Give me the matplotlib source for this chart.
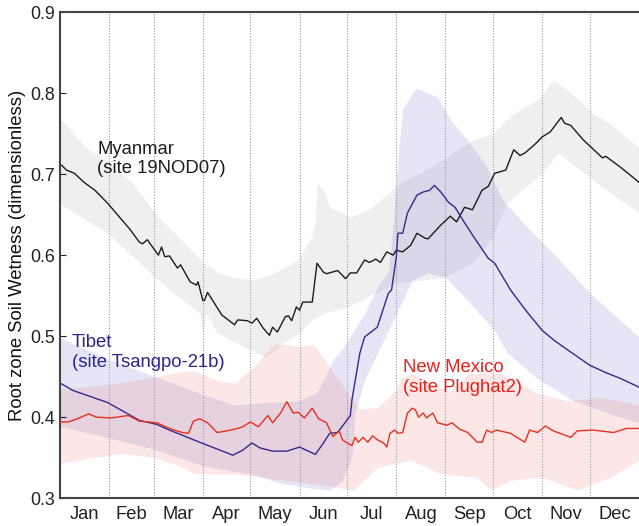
import matplotlib
matplotlib.use("Agg")
import matplotlib.pyplot as plt
import numpy as np

plt.rcParams['font.family'] = ['Liberation Sans', 'DejaVu Sans']

months = ['Jan', 'Feb', 'Mar', 'Apr', 'May', 'Jun', 'Jul', 'Aug', 'Sep', 'Oct', 'Nov', 'Dec']
month_starts = [0, 31, 59, 90, 120, 151, 181, 212, 243, 273, 304, 334, 365]

# Myanmar (site 19NOD07)
mya_days = [1, 4, 9, 15, 22, 30, 44, 50, 52, 55, 62, 64, 66, 69, 74, 76, 82, 86, 87, 90, 91, 93,
            102, 106, 110, 112, 118, 121, 124, 128, 132, 134, 137, 142, 144, 146, 149, 151, 153,
            159, 162, 166, 168, 175, 180, 183, 187, 192, 195, 199, 202, 206, 210, 212, 216, 221,
            225, 230, 232, 240, 246, 250, 255, 260, 266, 270, 274, 281, 286, 290, 293, 299, 304,
            309, 316, 318, 322, 330, 342, 344, 353, 365]
mya_vals = [0.711, 0.705, 0.701, 0.690, 0.680, 0.664, 0.632, 0.616, 0.614, 0.619, 0.600, 0.610,
            0.598, 0.599, 0.584, 0.588, 0.567, 0.563, 0.567, 0.544, 0.544, 0.554, 0.526, 0.520,
            0.514, 0.520, 0.519, 0.516, 0.522, 0.510, 0.501, 0.511, 0.505, 0.524, 0.525, 0.519,
            0.536, 0.532, 0.542, 0.542, 0.590, 0.579, 0.577, 0.581, 0.571, 0.578, 0.578, 0.594,
            0.591, 0.595, 0.591, 0.604, 0.600, 0.606, 0.604, 0.612, 0.627, 0.621, 0.620, 0.637,
            0.648, 0.641, 0.659, 0.656, 0.680, 0.685, 0.701, 0.705, 0.730, 0.723, 0.726, 0.736,
            0.746, 0.752, 0.770, 0.763, 0.760, 0.742, 0.720, 0.722, 0.709, 0.690]
mya_up_days = [1, 15, 30, 45, 55, 62, 75, 90, 100, 110, 122, 135, 142, 150, 158, 161, 162, 166, 170,
               183, 194, 202, 215, 235, 260, 273, 286, 301, 311, 320, 336, 346, 365]
mya_up_vals = [0.767, 0.735, 0.715, 0.690, 0.665, 0.647, 0.622, 0.591, 0.578, 0.572, 0.569, 0.578,
               0.585, 0.594, 0.620, 0.640, 0.689, 0.680, 0.659, 0.647, 0.656, 0.668, 0.690, 0.710,
               0.742, 0.750, 0.775, 0.791, 0.816, 0.804, 0.775, 0.763, 0.733]
mya_lo_days = [1, 15, 30, 45, 62, 75, 88, 90, 92, 99, 120, 130, 140, 151, 159, 166, 181, 211, 243,
               260, 272, 282, 304, 314, 342, 365]
mya_lo_vals = [0.662, 0.645, 0.627, 0.600, 0.569, 0.548, 0.528, 0.505, 0.528, 0.504, 0.483, 0.474,
               0.491, 0.504, 0.520, 0.528, 0.536, 0.565, 0.573, 0.590, 0.620, 0.665, 0.701, 0.726,
               0.684, 0.652]

# Tibet (site Tsangpo-21b)
tib_days = [1, 8, 30, 50, 61, 69, 88, 109, 115, 121, 126, 134, 143, 151, 161, 166, 170, 175, 180,
            183, 184, 189, 192, 200, 207, 209, 212, 213, 216, 219, 225, 229, 233, 236, 240, 245,
            249, 255, 262, 270, 274, 284, 292, 296, 304, 312, 320, 334, 344, 353, 365]
tib_vals = [0.441, 0.433, 0.418, 0.396, 0.391, 0.384, 0.369, 0.353, 0.359, 0.368, 0.362, 0.358,
            0.358, 0.363, 0.354, 0.368, 0.380, 0.381, 0.394, 0.402, 0.421, 0.479, 0.499, 0.511,
            0.553, 0.557, 0.598, 0.627, 0.627, 0.652, 0.674, 0.678, 0.680, 0.686, 0.678, 0.665,
            0.659, 0.640, 0.619, 0.596, 0.590, 0.557, 0.536, 0.526, 0.507, 0.494, 0.483, 0.464,
            0.455, 0.448, 0.437]
tib_up_days = [1, 30, 60, 90, 110, 130, 150, 162, 172, 180, 192, 200, 207, 210, 213, 216, 222, 225,
               238, 246, 257, 269, 279, 292, 313, 334, 365]
tib_up_vals = [0.497, 0.472, 0.450, 0.428, 0.415, 0.418, 0.420, 0.430, 0.470, 0.490, 0.528, 0.560,
               0.580, 0.640, 0.720, 0.780, 0.800, 0.806, 0.795, 0.767, 0.742, 0.709, 0.668, 0.640,
               0.598, 0.553, 0.499]
tib_lo_days = [1, 30, 60, 90, 120, 140, 160, 170, 178, 184, 186, 192, 207, 222, 232, 243, 255, 268,
               275, 282, 302, 323, 345, 365]
tib_lo_vals = [0.388, 0.375, 0.360, 0.340, 0.330, 0.318, 0.312, 0.310, 0.322, 0.350, 0.405, 0.446,
               0.507, 0.569, 0.578, 0.573, 0.548, 0.520, 0.504, 0.479, 0.446, 0.421, 0.405, 0.393]

# New Mexico (site Plughat2)
nm_days = [0, 5, 11, 18, 23, 32, 36, 43, 50, 61, 69, 77, 81, 84, 88, 93, 99, 105, 112, 115, 120,
           125, 131, 134, 139, 143, 147, 150, 154, 159, 163, 168, 172, 176, 178, 181, 184, 186,
           188, 191, 194, 197, 200, 204, 206, 208, 211, 213, 216, 219, 222, 224, 226, 229, 231,
           235, 238, 244, 247, 252, 257, 263, 266, 269, 272, 275, 284, 293, 296, 301, 306, 311,
           322, 326, 336, 349, 357, 365]
nm_vals = [0.394, 0.394, 0.398, 0.404, 0.400, 0.399, 0.400, 0.402, 0.395, 0.393, 0.386, 0.381,
           0.380, 0.395, 0.398, 0.393, 0.381, 0.383, 0.386, 0.388, 0.394, 0.388, 0.402, 0.393,
           0.405, 0.419, 0.405, 0.406, 0.399, 0.411, 0.398, 0.393, 0.376, 0.383, 0.372, 0.368,
           0.365, 0.375, 0.369, 0.375, 0.369, 0.377, 0.372, 0.368, 0.363, 0.380, 0.384, 0.380,
           0.381, 0.405, 0.411, 0.409, 0.400, 0.405, 0.399, 0.405, 0.393, 0.390, 0.393, 0.385,
           0.381, 0.369, 0.369, 0.384, 0.381, 0.384, 0.380, 0.369, 0.384, 0.381, 0.389, 0.383,
           0.375, 0.383, 0.384, 0.381, 0.386, 0.386]
nm_up_days = [1, 30, 60, 83, 100, 110, 120, 135, 142, 150, 160, 170, 185, 189, 200, 210, 216, 222,
              235, 245, 258, 275, 284, 300, 320, 340, 365]
nm_up_vals = [0.435, 0.440, 0.450, 0.458, 0.445, 0.442, 0.458, 0.490, 0.490, 0.487, 0.490, 0.462,
              0.420, 0.410, 0.412, 0.430, 0.449, 0.454, 0.440, 0.430, 0.454, 0.455, 0.450, 0.430,
              0.420, 0.425, 0.415]
nm_lo_days = [1, 20, 40, 60, 75, 85, 95, 110, 130, 150, 170, 185, 200, 221, 240, 262, 272, 284,
              304, 326, 347, 365]
nm_lo_vals = [0.343, 0.350, 0.355, 0.350, 0.340, 0.330, 0.330, 0.330, 0.325, 0.320, 0.315, 0.310,
              0.338, 0.347, 0.330, 0.326, 0.310, 0.322, 0.326, 0.310, 0.326, 0.347]

fig = plt.figure(figsize=(6.39, 5.26), dpi=100)
ax = fig.add_axes([0.094, 0.053, 0.906, 0.924])

def band(days_up, up, days_lo, lo, color, alpha):
    d = np.arange(0, 366)
    u = np.interp(d, days_up, up)
    l = np.interp(d, days_lo, lo)
    ax.fill_between(d, l, u, color=color, alpha=alpha, linewidth=0)

band(mya_up_days, mya_up_vals, mya_lo_days, mya_lo_vals, '#d6d6d6', 0.38)
band(tib_up_days, tib_up_vals, tib_lo_days, tib_lo_vals, '#7f80d2', 0.2)
band(nm_up_days, nm_up_vals, nm_lo_days, nm_lo_vals, '#f07a78', 0.18)

for m in month_starts[1:-1]:
    ax.axvline(m, color='#9a9a9a', linestyle=(0, (1, 1.5)), linewidth=0.8, zorder=1)

ax.plot(mya_days, mya_vals, color='#1c1c1c', linewidth=1.0, zorder=3)
ax.plot(tib_days, tib_vals, color='#35288f', linewidth=1.0, zorder=3)
ax.plot(nm_days, nm_vals, color='#e8301e', linewidth=1.0, zorder=3)

fs_ann = 13.3
ax.text(23.3, 0.7414, 'Myanmar\n(site 19NOD07)', color='#1c1c1c', fontsize=fs_ann,
        va='top', ha='left', linespacing=1.22)
ax.text(7.5, 0.503, 'Tibet\n(site Tsangpo-21b)', color='#2e2390', fontsize=fs_ann,
        va='top', ha='left', linespacing=1.22)
ax.text(216, 0.4716, 'New Mexico\n(site Plughat2)', color='#e8201a', fontsize=fs_ann,
        va='top', ha='left', linespacing=1.22)

ax.set_xlim(0, 365)
ax.set_ylim(0.3, 0.9)
ax.set_yticks([0.3, 0.4, 0.5, 0.6, 0.7, 0.8, 0.9])
ax.set_yticklabels(['0.3', '0.4', '0.5', '0.6', '0.7', '0.8', '0.9'])
mids = [(month_starts[i] + month_starts[i + 1]) / 2 for i in range(12)]
ax.set_xticks(mids)
ax.set_xticklabels(months)
ax.tick_params(axis='x', length=0, labelsize=13.2, colors='#222222', pad=6)
ax.tick_params(axis='y', direction='in', length=4, labelsize=12.8, colors='#222222', pad=4)
ax.set_ylabel('Root zone Soil Wetness (dimensionless)', fontsize=13.3, color='#111111', labelpad=3)

for s in ['left', 'top', 'bottom']:
    ax.spines[s].set_color('#444444')
    ax.spines[s].set_linewidth(1.5)
ax.spines['right'].set_visible(False)

fig.savefig('out.png', dpi=100)
